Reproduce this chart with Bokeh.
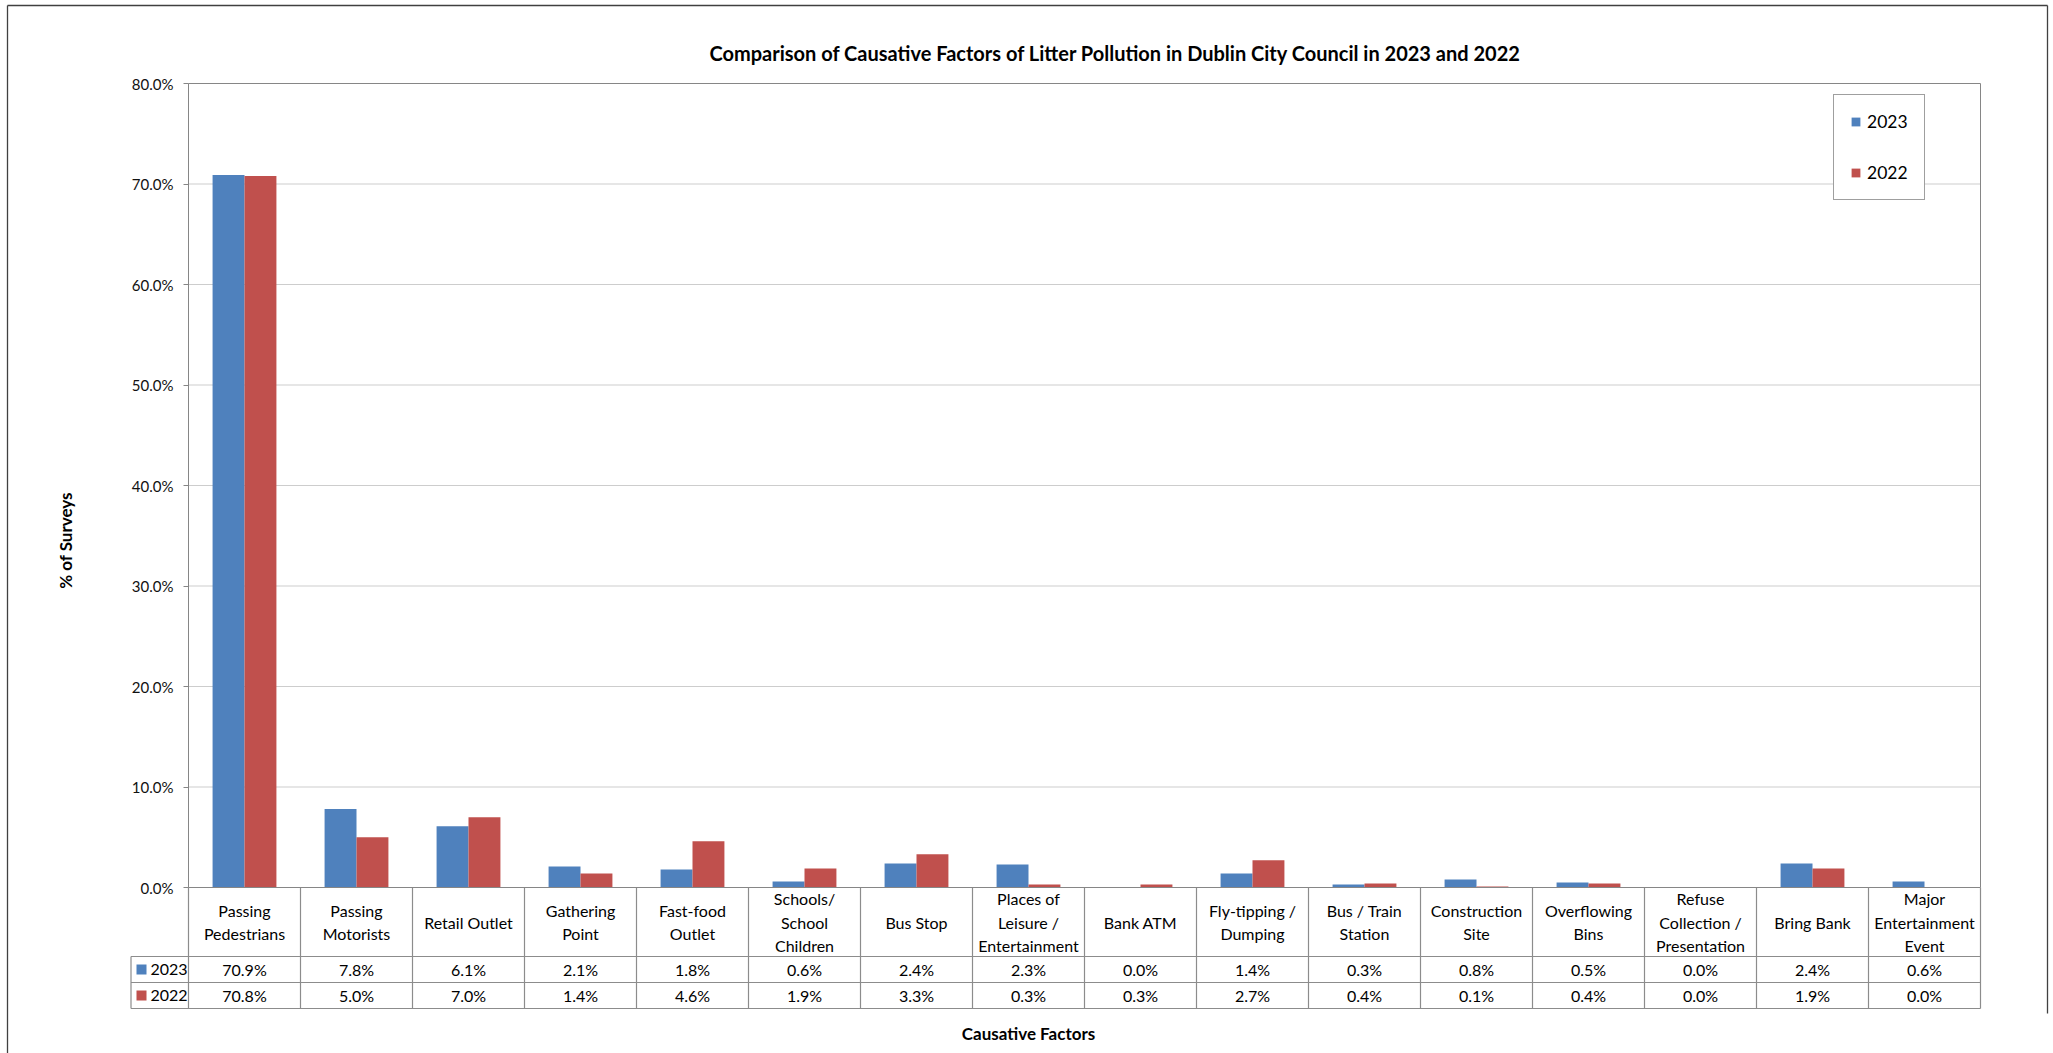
import numpy as np
from bokeh.plotting import figure
from bokeh.models import (Range1d, FixedTicker, PrintfTickFormatter, Label, Legend,
                          LegendItem, Arrow)
from bokeh.core.properties import value
from bokeh.embed import file_html
from bokeh.resources import INLINE

# ---------------- data ----------------
categories = [
    "Passing\nPedestrians", "Passing\nMotorists", "Retail Outlet", "Gathering\nPoint",
    "Fast-food\nOutlet", "Schools/\nSchool\nChildren", "Bus Stop",
    "Places of\nLeisure /\nEntertainment", "Bank ATM", "Fly-tipping /\nDumping",
    "Bus / Train\nStation", "Construction\nSite", "Overflowing\nBins",
    "Refuse\nCollection /\nPresentation", "Bring Bank", "Major\nEntertainment\nEvent",
]
series = ["2023", "2022"]
values_2023 = [70.9, 7.8, 6.1, 2.1, 1.8, 0.6, 2.4, 2.3, 0.0, 1.4, 0.3, 0.8, 0.5, 0.0, 2.4, 0.6]
values_2022 = [70.8, 5.0, 7.0, 1.4, 4.6, 1.9, 3.3, 0.3, 0.3, 2.7, 0.4, 0.1, 0.4, 0.0, 1.9, 0.0]
y_ticks = [0, 10, 20, 30, 40, 50, 60, 70, 80]
title_text = "Comparison of Causative Factors of Litter Pollution in Dublin City Council in 2023 and 2022"
x_title = "Causative Factors"
y_title = "% of Surveys"

# ---------------- styles / layout ----------------
C23, C22 = "#4F81BD", "#C0504D"
GRID_C, AXIS_C, TBL_C, FRAME_C = "#CDCDCD", "#868686", "#8C8C8C", "#404040"
FONT = "Lato"
FIG_W, FIG_H = 2053, 1053
FL, FR, FT, FB = 0, FIG_W, 0, FIG_H           # frame = whole canvas (px)
X0_PX, CW = 188, 112                          # first column left edge, column width
Y0_PX, YMAX_PX = 887, 83                      # pixel rows of 0 % and 80 %
YMAX = y_ticks[-1]
PPY = (Y0_PX - YMAX_PX) / YMAX


def xd(px):
    return (px - X0_PX) / CW


def yd(py):
    return (Y0_PX - py) / PPY


n = len(categories)
p = figure(width=FIG_W, height=FIG_H, output_backend="svg", toolbar_location=None,
           x_range=Range1d(xd(FL), xd(FR)), y_range=Range1d(yd(FB), yd(FT)),
           x_axis_location=None, title=None,
           min_border_left=0, min_border_right=0, min_border_top=0, min_border_bottom=0)
p.outline_line_color = None
p.grid.visible = False
p.background_fill_color = "white"
p.border_fill_color = "white"

# y axis
ax = p.yaxis[0]
ax.fixed_location = 0
ax.bounds = (0, YMAX)
ax.ticker = FixedTicker(ticks=y_ticks)
ax.formatter = PrintfTickFormatter(format="%.1f%%")
ax.axis_line_color = AXIS_C
ax.major_tick_line_color = AXIS_C
ax.major_tick_out = 5
ax.major_tick_in = 0
ax.minor_tick_out = 0
ax.minor_tick_in = 0
ax.major_label_standoff = 10
ax.major_label_text_font = FONT
ax.major_label_text_font_size = "15px"
ax.major_label_text_color = "#111111"

# grid lines & plot area border
p.segment(x0=0, x1=n, y0=y_ticks[1:-1], y1=y_ticks[1:-1], line_color=GRID_C, line_width=1)
p.segment(x0=[0, n], x1=[n, n], y0=[YMAX, 0], y1=[YMAX, YMAX], line_color=AXIS_C, line_width=1)

# bars
centers = np.arange(n) + 0.5
BW = 0.285
r23 = p.vbar(x=centers - BW / 2, top=values_2023, bottom=0, width=BW, fill_color=C23, line_color=None)
r22 = p.vbar(x=centers + BW / 2, top=values_2022, bottom=0, width=BW, fill_color=C22, line_color=None)

# ---------------- data table ----------------
row1_top, row2_top, tbl_bot = yd(956), yd(982), yd(1008)
hdr_left = xd(130.5)
cols = np.arange(n + 1)
p.segment(x0=cols, x1=cols, y0=0, y1=tbl_bot, line_color=TBL_C, line_width=1.2)
p.segment(x0=[hdr_left], x1=[hdr_left], y0=[row1_top], y1=[tbl_bot], line_color=TBL_C, line_width=1.2)
p.segment(x0=hdr_left, x1=n, y0=[row1_top, row2_top, tbl_bot], y1=[row1_top, row2_top, tbl_bot],
          line_color=TBL_C, line_width=1.2)
p.segment(x0=[0], x1=[n], y0=[0], y1=[0], line_color=AXIS_C, line_width=1.2)

p.text(x=centers, y=yd(921.5), text=categories, text_align="center", text_baseline="middle",
       text_font=value(FONT), text_font_size="16px", text_line_height=1.25, text_color="#000000")
row_y = [yd(969), yd(995)]
for vals, ry in zip([values_2023, values_2022], row_y):
    p.text(x=centers, y=ry, text=[f"{v:.1f}%" for v in vals], text_align="center",
           text_baseline="middle", text_font=value(FONT), text_font_size="16px", text_color="#000000")
p.scatter(x=xd(141), y=row_y, marker="square", size=10, fill_color=[C23, C22], line_color=None)
p.text(x=xd(150), y=row_y, text=series, text_align="left", text_baseline="middle",
       text_font=value(FONT), text_font_size="16px", text_color="#000000")

# ---------------- titles ----------------
p.add_layout(Label(x=xd(1115), y=yd(52), text=title_text, text_align="center", text_baseline="middle",
                   text_font=FONT, text_font_size="20px", text_font_style="bold", text_color="#000000"))
p.add_layout(Label(x=xd(1028), y=yd(1033), text=x_title, text_align="center", text_baseline="middle",
                   text_font=FONT, text_font_size="17px", text_font_style="bold", text_color="#000000"))
p.add_layout(Label(x=xd(65), y=yd(540), text=y_title, text_align="center", text_baseline="middle",
                   angle=np.pi / 2, text_font=FONT, text_font_size="17px", text_font_style="bold",
                   text_color="#000000"))

# ---------------- legend ----------------
legend = Legend(items=[LegendItem(label=series[0], renderers=[r23]),
                       LegendItem(label=series[1], renderers=[r22])],
                location=(1833 - FL, FB - 200), orientation="vertical",
                label_text_font=FONT, label_text_font_size="17.5px", label_text_color="#000000",
                glyph_width=11, glyph_height=11, label_height=20, label_standoff=6,
                spacing=30, padding=16, margin=0,
                border_line_color=FRAME_C, border_line_width=1, background_fill_color="white",
                background_fill_alpha=1)
p.add_layout(legend)

# ---------------- outer chart border ----------------
for (xs, ys, xe, ye) in [(7, 5, 7, 1060), (7, 5, 2047, 5), (2047, 5, 2047, 1013)]:
    p.add_layout(Arrow(end=None, x_start=xd(xs), y_start=yd(ys), x_end=xd(xe), y_end=yd(ye),
                       line_color=FRAME_C, line_width=1.3))

open("out.html", "w").write(file_html(p, INLINE))
